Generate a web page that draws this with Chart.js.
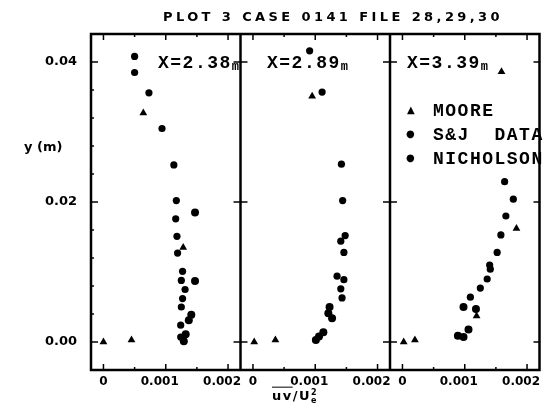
<!DOCTYPE html>
<html>
<head>
<meta charset="utf-8">
<script src="https://cdn.jsdelivr.net/npm/chart.js@4.4.1/dist/chart.umd.min.js"></script>
<style>
  html, body { margin: 0; padding: 0; background: #fff; overflow: hidden; }
  #wrap { position: relative; width: 544px; height: 412px; }
  canvas { position: absolute; left: 0; top: 0; }
  .t { position: absolute; white-space: pre; color: #000; line-height: 1; transform: translateY(-50%); }
  .sans { font-family: 'DejaVu Sans', sans-serif; font-weight: bold; font-size: 13px; }
  .mono { font-family: 'Liberation Mono', monospace; font-weight: bold; font-size: 18px; letter-spacing: 1.5px; }
  .m { font-size: 12px; letter-spacing: 0; vertical-align: -2px; }
  .mk { font-family: 'DejaVu Sans', sans-serif; font-size: 10px; }
</style>
</head>
<body>
<div id="wrap">
  <canvas id="c" width="544" height="412"></canvas>
  <div class="t sans" style="left:163px;top:16px;letter-spacing:3.4px;">PLOT 3 CASE 0141 FILE 28,29,30</div>
  <div class="t sans" style="left:24px;top:146px;">y (m)</div>
  <div class="t mono" style="left:158px;top:63px;">X=2.38<span class="m">m</span></div>
  <div class="t mono" style="left:267px;top:63px;">X=2.89<span class="m">m</span></div>
  <div class="t mono" style="left:407px;top:63px;">X=3.39<span class="m">m</span></div>
  <div class="t mk" style="left:407px;top:110px;">▲</div>
  <div class="t mono" style="left:433px;top:111px;">MOORE</div>
  <div class="t mk" style="left:406px;top:134px;">●</div>
  <div class="t mono" style="left:433px;top:135px;">S&amp;J  DATA</div>
  <div class="t mk" style="left:406px;top:158px;">●</div>
  <div class="t mono" style="left:433px;top:159px;">NICHOLSON</div>
  <div class="t sans" style="left:272px;top:396px;letter-spacing:1.5px;"><span style="text-decoration:overline;">uv</span>/U<span style="display:inline-block;vertical-align:middle;font-size:8px;line-height:0.9;text-align:center;">2
e</span></div>
</div>
<script>
// uv/Ue^2 profiles, one panel per station X
const MOORE_238 = [[0, 0], [0.00045, 0.0003], [0.00064, 0.0327], [0.00128, 0.0135]];
const SJ_238 = [[0.0005, 0.0408], [0.0005, 0.0385], [0.00073, 0.0356], [0.00094, 0.0305], [0.00113, 0.0253],
    [0.00117, 0.0202], [0.00116, 0.0176], [0.00118, 0.0151], [0.00119, 0.0127], [0.00127, 0.0101],
    [0.00125, 0.0088], [0.00131, 0.0075], [0.00127, 0.0062], [0.00125, 0.005], [0.00124, 0.0024], [0.00124, 0.0007]];
const NICH_238 = [[0.00147, 0.0185], [0.00147, 0.0087], [0.00141, 0.0039], [0.00137, 0.0031], [0.00132, 0.0011], [0.00129, 0.0001]];

const MOORE_289 = [[0.00002, 0], [0.00036, 0.0003], [0.00095, 0.0351]];
const SJ_289 = [[0.00091, 0.0416], [0.00111, 0.0357], [0.00142, 0.0254], [0.00144, 0.0202], [0.00148, 0.0152],
    [0.00141, 0.0144], [0.00146, 0.0128], [0.00135, 0.0094], [0.00146, 0.0089], [0.00141, 0.0076], [0.00143, 0.0063]];
const NICH_289 = [[0.00123, 0.005], [0.00121, 0.0041], [0.00127, 0.0034], [0.00113, 0.0014], [0.00106, 0.0008], [0.00101, 0.0003]];

const MOORE_339 = [[0.00002, 0], [0.0002, 0.0003], [0.00119, 0.0037], [0.00183, 0.0162], [0.00159, 0.0386]];
const SJ_339 = [[0.00164, 0.0229], [0.00178, 0.0204], [0.00166, 0.018], [0.00158, 0.0153], [0.00152, 0.0128],
    [0.0014, 0.011], [0.00141, 0.0104], [0.00136, 0.009], [0.00125, 0.0077], [0.00109, 0.0064]];
const NICH_339 = [[0.00098, 0.005], [0.00118, 0.0047], [0.00106, 0.0018], [0.00089, 0.0009], [0.00098, 0.0007]];

const X_TICKS = [0, 0.001, 0.002];
// trailing em space nudges the long labels left, as in the original plot
const X_TICK_LABELS = ['0', '0.001\u2003', '0.002\u2003'];
const Y_TICKS = [0, 0.02, 0.04];
const Y_TICK_LABELS = ['0.00', '0.02', '0.04'];

// panels share one linear x scale, each shifted by PANEL_SHIFT
const PANEL_SHIFT = 0.0024;
const X_MIN = -0.0002;
const X_MAX = 0.007;
const Y_MIN = -0.004;
const Y_MAX = 0.044;
const DIVIDERS = [0.0022, 0.0046];

function shifted(panels) {
    const out = [];
    panels.forEach((pts, i) => {
        pts.forEach(([x, y]) => out.push({ x: x + i * PANEL_SHIFT, y }));
    });
    return out;
}

const tickFont = { family: "'DejaVu Sans', sans-serif", size: 12, weight: 'bold' };

const framePlugin = {
    id: 'frame',
    afterDraw(chart) {
        const { ctx, chartArea: a, scales: { x, y } } = chart;
        const line = (x1, y1, x2, y2) => {
            ctx.beginPath();
            ctx.moveTo(x1, y1);
            ctx.lineTo(x2, y2);
            ctx.stroke();
        };
        ctx.save();
        ctx.strokeStyle = '#000';

        // inward ticks on top and bottom of every panel
        ctx.lineWidth = 1.5;
        for (let p = 0; p < 3; p++) {
            for (let k = 0; k <= 4; k++) {
                const v = k * 0.0005;
                const px = x.getPixelForValue(v + p * PANEL_SHIFT);
                const len = k % 2 === 0 ? 6 : 3;
                line(px, a.bottom, px, a.bottom - len);
                line(px, a.top, px, a.top + len);
            }
        }

        // minor y ticks on left edge
        for (let k = 1; k <= 10; k++) {
            if (k % 5 === 0) continue;
            const py = y.getPixelForValue(k * 0.004);
            line(a.left, py, a.left + 3, py);
        }

        // major y ticks: crosses on dividers, inward on outer edges
        const divs = DIVIDERS.map((d) => x.getPixelForValue(d));
        Y_TICKS.forEach((v) => {
            const py = y.getPixelForValue(v);
            line(a.left, py, a.left + 7, py);
            line(a.right, py, a.right - 6, py);
            divs.forEach((dx) => line(dx - 7, py, dx + 7, py));
        });

        ctx.lineWidth = 2.5;
        ctx.strokeRect(a.left, a.top, a.right - a.left, a.bottom - a.top);
        divs.forEach((dx) => line(dx, a.top, dx, a.bottom));
        ctx.restore();
    },
};

new Chart(document.getElementById('c'), {
    type: 'scatter',
    data: {
        datasets: [
            {
                label: 'MOORE',
                data: shifted([MOORE_238, MOORE_289, MOORE_339]),
                pointStyle: 'triangle',
                pointRadius: 4.5,
                backgroundColor: '#000',
                borderColor: '#000',
                borderWidth: 0,
            },
            {
                label: 'S&J DATA',
                data: shifted([SJ_238, SJ_289, SJ_339]),
                pointStyle: 'circle',
                pointRadius: 3.6,
                backgroundColor: '#000',
                borderColor: '#000',
                borderWidth: 0,
            },
            {
                label: 'NICHOLSON',
                data: shifted([NICH_238, NICH_289, NICH_339]),
                pointStyle: 'circle',
                pointRadius: 4,
                backgroundColor: '#000',
                borderColor: '#000',
                borderWidth: 0,
            },
        ],
    },
    options: {
        responsive: false,
        animation: false,
        devicePixelRatio: 1,
        layout: { padding: { top: 34, right: 2, left: 0, bottom: 0 } },
        plugins: {
            legend: { display: false },
            tooltip: { enabled: false },
        },
        scales: {
            x: {
                type: 'linear',
                min: X_MIN,
                max: X_MAX,
                grid: { display: false, drawTicks: false },
                border: { display: false },
                afterBuildTicks: (s) => {
                    const ticks = [];
                    for (let p = 0; p < 3; p++) {
                        X_TICKS.forEach((v) => ticks.push({ value: v + p * PANEL_SHIFT }));
                    }
                    s.ticks = ticks;
                },
                afterFit: (s) => {
                    s.height = 42;
                    // let the last label hang past the frame instead of shrinking it
                    s.paddingLeft = 0;
                    s.paddingRight = 0;
                },
                ticks: {
                    autoSkip: false,
                    maxRotation: 0,
                    padding: 5,
                    color: '#000',
                    font: tickFont,
                    callback: (value, i) => X_TICK_LABELS[i % X_TICK_LABELS.length],
                },
            },
            y: {
                type: 'linear',
                min: Y_MIN,
                max: Y_MAX,
                grid: { display: false, drawTicks: false },
                border: { display: false },
                afterBuildTicks: (s) => {
                    s.ticks = Y_TICKS.map((v) => ({ value: v }));
                },
                afterFit: (s) => { s.width = 91; },
                ticks: {
                    padding: 14,
                    color: '#000',
                    font: { family: "'DejaVu Sans', sans-serif", size: 13, weight: 'bold' },
                    callback: (value, i) => Y_TICK_LABELS[i],
                },
            },
        },
    },
    plugins: [framePlugin],
});
</script>
</body>
</html>
